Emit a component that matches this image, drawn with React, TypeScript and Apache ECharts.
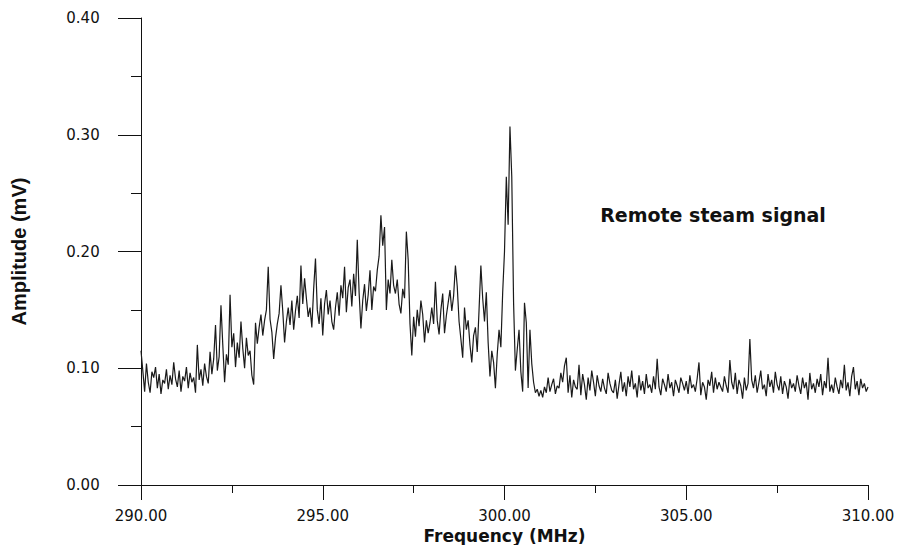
import React, { useEffect, useRef } from "react";
import * as echarts from "echarts";

// Frequency grid: 290.00 MHz to 310.00 MHz, 0.05 MHz spacing
const FREQ_START = 290;
const FREQ_STEP = 0.05;

// Amplitude (mV), one row per MHz (20 samples each)
const amp290 = [0.115, 0.098, 0.080, 0.104, 0.088, 0.079, 0.097, 0.092, 0.101, 0.083, 0.095, 0.078, 0.090, 0.087, 0.099, 0.082, 0.094, 0.086, 0.105, 0.091];
const amp291 = [0.084, 0.098, 0.080, 0.093, 0.089, 0.101, 0.083, 0.096, 0.088, 0.092, 0.079, 0.120, 0.090, 0.099, 0.085, 0.104, 0.093, 0.087, 0.114, 0.095];
const amp292 = [0.108, 0.137, 0.098, 0.110, 0.154, 0.120, 0.088, 0.112, 0.103, 0.163, 0.118, 0.130, 0.101, 0.122, 0.109, 0.140, 0.117, 0.100, 0.126, 0.111];
const amp293 = [0.115, 0.094, 0.086, 0.139, 0.121, 0.135, 0.146, 0.128, 0.141, 0.150, 0.187, 0.142, 0.131, 0.108, 0.126, 0.138, 0.147, 0.171, 0.149, 0.122];
const amp294 = [0.140, 0.152, 0.137, 0.158, 0.133, 0.149, 0.162, 0.143, 0.188, 0.155, 0.177, 0.160, 0.144, 0.152, 0.135, 0.168, 0.194, 0.150, 0.138, 0.160];
const amp295 = [0.128, 0.155, 0.167, 0.146, 0.158, 0.140, 0.133, 0.152, 0.165, 0.145, 0.171, 0.160, 0.187, 0.148, 0.169, 0.176, 0.153, 0.181, 0.162, 0.210];
const amp296 = [0.165, 0.134, 0.158, 0.172, 0.149, 0.163, 0.184, 0.150, 0.170, 0.166, 0.184, 0.196, 0.231, 0.205, 0.221, 0.150, 0.176, 0.164, 0.193, 0.171];
const amp297 = [0.164, 0.176, 0.155, 0.147, 0.168, 0.160, 0.217, 0.193, 0.138, 0.111, 0.144, 0.127, 0.150, 0.136, 0.158, 0.146, 0.122, 0.141, 0.130, 0.139];
const amp298 = [0.152, 0.138, 0.174, 0.141, 0.129, 0.150, 0.164, 0.130, 0.145, 0.156, 0.167, 0.149, 0.162, 0.188, 0.170, 0.140, 0.125, 0.109, 0.152, 0.133];
const amp299 = [0.141, 0.120, 0.105, 0.128, 0.135, 0.114, 0.150, 0.188, 0.160, 0.140, 0.165, 0.122, 0.093, 0.115, 0.105, 0.083, 0.112, 0.133, 0.118, 0.165];
const amp300 = [0.200, 0.264, 0.223, 0.307, 0.264, 0.156, 0.098, 0.116, 0.133, 0.097, 0.080, 0.156, 0.139, 0.083, 0.133, 0.104, 0.088, 0.079, 0.082, 0.076];
const amp301 = [0.081, 0.075, 0.084, 0.079, 0.092, 0.080, 0.086, 0.091, 0.078, 0.085, 0.083, 0.096, 0.088, 0.102, 0.109, 0.079, 0.094, 0.075, 0.090, 0.084];
const amp302 = [0.082, 0.103, 0.077, 0.095, 0.086, 0.073, 0.092, 0.081, 0.098, 0.088, 0.076, 0.094, 0.085, 0.080, 0.091, 0.083, 0.078, 0.096, 0.087, 0.081];
const amp303 = [0.079, 0.090, 0.074, 0.086, 0.097, 0.080, 0.088, 0.076, 0.093, 0.084, 0.098, 0.082, 0.087, 0.075, 0.094, 0.081, 0.089, 0.078, 0.095, 0.083];
const amp304 = [0.086, 0.079, 0.093, 0.082, 0.108, 0.084, 0.077, 0.091, 0.086, 0.080, 0.095, 0.083, 0.088, 0.076, 0.090, 0.085, 0.079, 0.092, 0.087, 0.081];
const amp305 = [0.089, 0.078, 0.094, 0.083, 0.086, 0.080, 0.091, 0.105, 0.077, 0.088, 0.084, 0.073, 0.090, 0.085, 0.097, 0.079, 0.092, 0.082, 0.088, 0.084];
const amp306 = [0.080, 0.093, 0.085, 0.079, 0.107, 0.088, 0.082, 0.096, 0.078, 0.090, 0.085, 0.074, 0.092, 0.081, 0.087, 0.125, 0.090, 0.083, 0.094, 0.079];
const amp307 = [0.088, 0.098, 0.082, 0.086, 0.076, 0.095, 0.084, 0.090, 0.079, 0.097, 0.086, 0.081, 0.093, 0.078, 0.089, 0.084, 0.074, 0.091, 0.083, 0.087];
const amp308 = [0.080, 0.094, 0.085, 0.078, 0.092, 0.083, 0.088, 0.073, 0.096, 0.082, 0.087, 0.079, 0.091, 0.084, 0.095, 0.077, 0.089, 0.083, 0.109, 0.080];
const amp309 = [0.086, 0.079, 0.092, 0.084, 0.078, 0.090, 0.083, 0.103, 0.081, 0.088, 0.076, 0.093, 0.101, 0.082, 0.089, 0.077, 0.091, 0.083, 0.087, 0.080];
const amp310 = [0.084];

const amplitude = [
  ...amp290, ...amp291, ...amp292, ...amp293, ...amp294,
  ...amp295, ...amp296, ...amp297, ...amp298, ...amp299,
  ...amp300, ...amp301, ...amp302, ...amp303, ...amp304,
  ...amp305, ...amp306, ...amp307, ...amp308, ...amp309, ...amp310,
];

const xLabel = "Frequency (MHz)";
const yLabel = "Amplitude (mV)";
const annotation = "Remote steam signal";

export default function App() {
  const ref = useRef<HTMLDivElement>(null);

  useEffect(() => {
    document.body.style.margin = "0";
    if (!ref.current) return;
    const chart = echarts.init(ref.current, undefined, { renderer: "svg" });
    const data = amplitude.map((v, i) => [+(FREQ_START + i * FREQ_STEP).toFixed(2), v]);
    const axisColor = "#111";
    chart.setOption({
      animation: false,
      backgroundColor: "#ffffff",
      grid: { left: 141, right: 33, top: 18, bottom: 60, containLabel: false, outerBoundsMode: "none" },
      xAxis: {
        type: "value",
        min: 290,
        max: 310,
        interval: 5,
        name: xLabel,
        nameLocation: "middle",
        nameGap: 42,
        nameMoveOverlap: false,
        nameTextStyle: { fontFamily: "DejaVu Sans", fontWeight: "bold", fontSize: 17, lineHeight: 17, color: "#111" },
        axisLine: { show: true, lineStyle: { color: axisColor, width: 1 } },
        axisTick: { show: true, inside: false, length: 15, lineStyle: { color: axisColor, width: 1 } },
        minorTick: { show: true, splitNumber: 2, length: 8, lineStyle: { color: axisColor, width: 1 } },
        splitLine: { show: false },
        minorSplitLine: { show: false },
        axisLabel: {
          margin: 23,
          fontFamily: "DejaVu Sans",
          fontSize: 15,
          lineHeight: 15,
          color: "#111",
          formatter: (v: number) => v.toFixed(2),
        },
      },
      yAxis: {
        type: "value",
        min: 0,
        max: 0.4,
        interval: 0.1,
        name: yLabel,
        nameLocation: "middle",
        nameGap: 112,
        nameRotate: 90,
        nameMoveOverlap: false,
        nameTextStyle: { fontFamily: "Liberation Sans Narrow, Liberation Sans", fontWeight: "bold", fontSize: 20, color: "#111" },
        axisLine: { show: true, lineStyle: { color: axisColor, width: 1 } },
        axisTick: { show: true, inside: false, length: 23, lineStyle: { color: axisColor, width: 1 } },
        minorTick: { show: true, splitNumber: 2, length: 10, lineStyle: { color: axisColor, width: 1 } },
        splitLine: { show: false },
        minorSplitLine: { show: false },
        axisLabel: {
          margin: 58,
          align: "center",
          fontFamily: "DejaVu Sans",
          fontSize: 15,
          color: "#111",
          formatter: (v: number) => v.toFixed(2),
        },
      },
      graphic: [
        {
          type: "text",
          x: 713,
          y: 215,
          style: {
            text: annotation,
            fontFamily: "DejaVu Sans",
            fontWeight: "bold",
            fontSize: 19,
            fill: "#111",
            textAlign: "center",
            textVerticalAlign: "middle",
          },
        },
      ],
      series: [
        {
          type: "line",
          data,
          showSymbol: false,
          symbol: "none",
          lineStyle: { color: "#1a1a1a", width: 1.2 },
          z: 3,
        },
      ],
    });
    return () => chart.dispose();
  }, []);

  return <div ref={ref} style={{ width: 901, height: 545 }} />;
}
